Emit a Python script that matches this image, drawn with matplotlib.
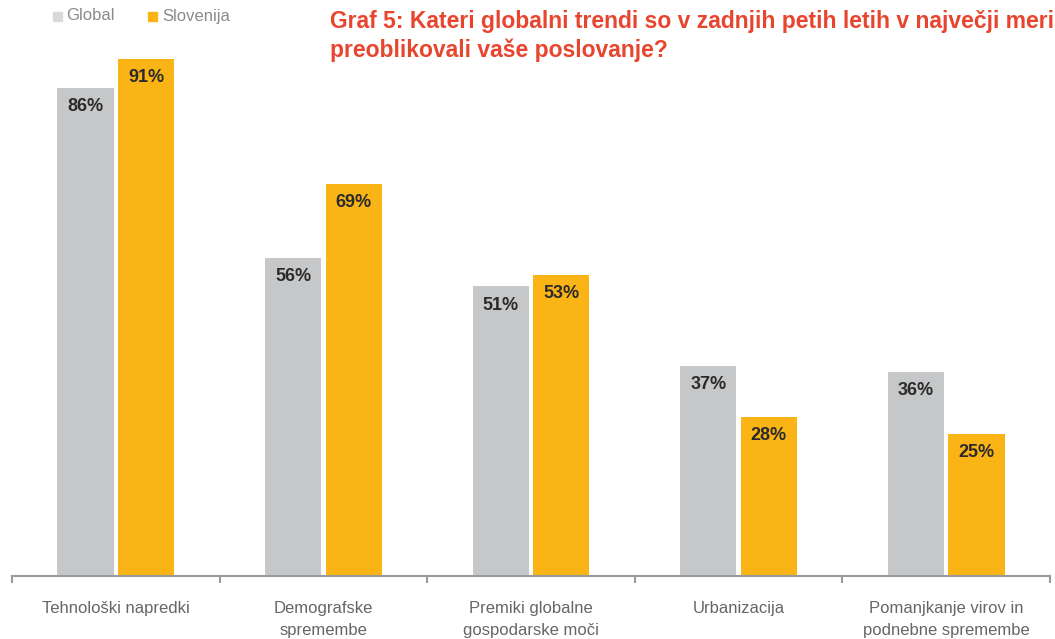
import numpy as np
import matplotlib.pyplot as plt

plt.rcParams['font.family'] = ['Liberation Sans', 'DejaVu Sans']

kategorije = ["Tehnološki napredki", "Demografske\nspremembe", "Premiki globalne\ngospodarske moči",
              "Urbanizacija", "Pomanjkanje virov in\npodnebne spremembe"]
globalno = [86, 56, 51, 37, 36]
slovenija = [91, 69, 53, 28, 25]
naslov = "Graf 5: Kateri globalni trendi so v zadnjih petih letih v največji meri\npreoblikovali vaše poslovanje?"

siva = "#C6C7C8"
oranzna = "#FBB416"

fig = plt.figure(figsize=(10.55, 6.39), dpi=100)
ax = fig.add_axes([12 / 1055, 63 / 639, 1038 / 1055, 568 / 639])

x = np.arange(len(kategorije))
w = 0.27
off = 0.146
b1 = ax.bar(x - off, globalno, w, color=siva)
b2 = ax.bar(x + off, slovenija, w, color=oranzna)

for bars, vals in ((b1, globalno), (b2, slovenija)):
    for b, v in zip(bars, vals):
        ax.annotate(f"{v}%", (b.get_x() + b.get_width() / 2, v), xytext=(0, -13.5),
                    textcoords="offset points", ha="center", va="center",
                    fontsize=13, fontweight="bold", color="#2b2b2b")

ax.set_xlim(-0.5, 4.5)
ax.set_ylim(0, 100)
for s in ("top", "right", "left"):
    ax.spines[s].set_visible(False)
ax.spines["bottom"].set_color("#9a9a9a")
ax.spines["bottom"].set_linewidth(1.5)
ax.set_yticks([])
ax.set_xticks(np.arange(-0.5, 5, 1))
ax.set_xticklabels([])
ax.tick_params(axis="x", length=5, width=1.5, color="#9a9a9a")

for i, k in enumerate(kategorije):
    ax.text(i, -4.4, k, ha="center", va="top", fontsize=12, color="#666666",
            linespacing=1.55, transform=ax.transData, clip_on=False)

# legenda
fig.patches.append(plt.Rectangle((53 / 1055, 1 - 21 / 639), 9 / 1055, 9 / 639,
                                 transform=fig.transFigure, color="#D9D9D9"))
fig.text(66 / 1055, 1 - 16 / 639, "Global", fontsize=12, color="#8a8a8a", va="center")
fig.patches.append(plt.Rectangle((148 / 1055, 1 - 21 / 639), 9 / 1055, 9 / 639,
                                 transform=fig.transFigure, color=oranzna))
fig.text(162 / 1055, 1 - 16 / 639, "Slovenija", fontsize=12, color="#8a8a8a", va="center")

fig.text(330 / 1055, 1 - 10 / 639, naslov, fontsize=16.5, fontweight="bold", color="#E8452F",
         va="top", ha="left", linespacing=1.3)

fig.savefig("out.png", dpi=100)
